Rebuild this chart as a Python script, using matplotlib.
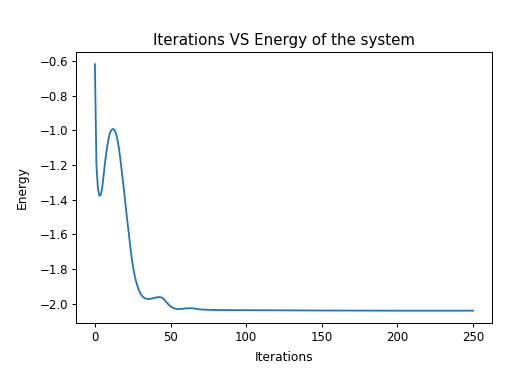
import matplotlib
matplotlib.use('Agg')
import matplotlib.pyplot as plt

# energy at chosen iterations
iterations = [0, 1, 2, 3, 4, 5, 6, 7, 8, 9, 10, 11, 12, 13, 14, 15, 16, 17, 18, 19,
              20, 21, 22, 23, 24, 25, 26, 27, 28, 29, 30, 31, 32, 33, 34, 35, 36, 37,
              38, 39, 40, 41, 42, 43, 44, 45, 46, 47, 48, 49, 50, 51, 52, 53, 54, 55,
              56, 57, 58, 59, 60, 62, 64, 66, 68, 70, 75, 80, 90, 100, 125, 150, 200, 250]
energy = [-0.62, -1.20, -1.34, -1.378, -1.37, -1.32, -1.24, -1.165, -1.10, -1.05,
          -1.015, -0.998, -0.992, -1.00, -1.02, -1.06, -1.11, -1.18, -1.255, -1.33,
          -1.41, -1.49, -1.565, -1.64, -1.715, -1.775, -1.825, -1.865, -1.895, -1.92,
          -1.94, -1.953, -1.962, -1.968, -1.972, -1.973, -1.973, -1.971, -1.969, -1.967,
          -1.965, -1.963, -1.962, -1.962, -1.964, -1.97, -1.978, -1.988, -1.998, -2.007,
          -2.015, -2.021, -2.025, -2.028, -2.03, -2.031, -2.031, -2.03, -2.029, -2.028,
          -2.027, -2.026, -2.026, -2.028, -2.031, -2.033, -2.035, -2.036, -2.037, -2.037,
          -2.038, -2.039, -2.04, -2.04]

plt.rcParams['xtick.labelsize'] = 11.7
plt.rcParams['ytick.labelsize'] = 11.7
plt.rcParams['axes.labelsize'] = 12.2
plt.rcParams['axes.titlesize'] = 15
plt.rcParams['axes.linewidth'] = 1.0
plt.rcParams['xtick.major.size'] = 4.2
plt.rcParams['ytick.major.size'] = 4.2
plt.rcParams['xtick.major.width'] = 1.0
plt.rcParams['ytick.major.width'] = 1.0

fig = plt.figure(figsize=(524 / 72, 372 / 72), dpi=72)
ax = fig.add_axes([76 / 524, 1 - 323 / 372, 416 / 524, 271 / 372])
ax.plot(iterations, energy, linewidth=1.8)
ax.set_title('Iterations VS Energy of the system', pad=7)
ax.set_xlabel('Iterations', labelpad=7)
ax.set_ylabel('Energy', labelpad=11)
fig.savefig('out.png', dpi=72)
